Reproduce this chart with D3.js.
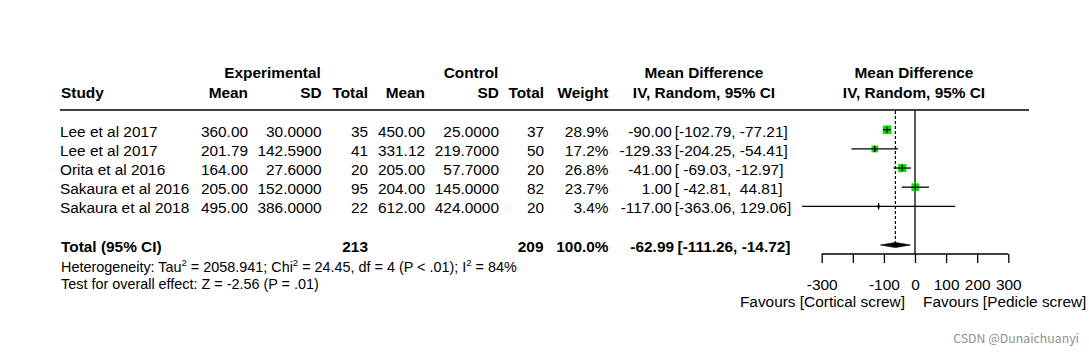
<!DOCTYPE html>
<html><head><meta charset="utf-8">
<script src="https://cdn.jsdelivr.net/npm/d3@7"></script>
<style>
html,body{margin:0;padding:0;background:#fff;}
svg text{font-family:"Liberation Sans",Arial,sans-serif;fill:#000;white-space:pre;}
</style></head>
<body>
<svg id="c" width="1089" height="356"></svg>
<script>
const studies = ["Lee et al 2017","Lee et al 2017","Orita et al 2016","Sakaura et al 2016","Sakaura et al 2018"];
const expMean = [360.00, 201.79, 164.00, 205.00, 495.00];
const expSD = [30.0, 142.59, 27.6, 152.0, 386.0];
const expN = [35, 41, 20, 95, 22];
const ctlMean = [450.00, 331.12, 205.00, 204.00, 612.00];
const ctlSD = [25.0, 219.7, 57.7, 145.0, 424.0];
const ctlN = [37, 50, 20, 82, 20];
const weights = [28.9, 17.2, 26.8, 23.7, 3.4];
const md = [-90.00, -129.33, -41.00, 1.00, -117.00];
const lower = [-102.79, -204.25, -69.03, -42.81, -363.06];
const upper = [-77.21, -54.41, -12.97, 44.81, 129.06];
const totalN = [213, 209];
const pooled = [-62.99, -111.26, -14.72]; // estimate, lower, upper
const axisTicks = [-300, -200, -100, 0, 100, 200, 300];
const axisLabels = ["-300", "", "-100", "0", "100", "200", "300"];

const svg = d3.select("#c");
const FS = 15.4, FSS = 14.4;
const x = d3.scaleLinear().domain([-300, 300]).range([821.7, 1008.3]);
const y = d3.scaleLinear().domain([0, 4]).range([129.8, 206.3]);
const base = i => y(i) + 6.9;

function txt(xp, yp, s, anchor, bold, size) {
  return svg.append("text").attr("x", xp).attr("y", yp)
    .attr("text-anchor", anchor || "start")
    .attr("font-weight", bold ? "bold" : "normal")
    .attr("font-size", size || FS).text(s);
}

// headers
txt(272.5, 78.3, "Experimental", "middle", true);
txt(471, 78.3, "Control", "middle", true);
txt(704, 78.3, "Mean Difference", "middle", true);
txt(914, 78.3, "Mean Difference", "middle", true);
txt(61, 98, "Study", "start", true);
txt(248, 98, "Mean", "end", true);
txt(321.7, 98, "SD", "end", true);
txt(368, 98, "Total", "end", true);
txt(425, 98, "Mean", "end", true);
txt(499, 98, "SD", "end", true);
txt(544, 98, "Total", "end", true);
txt(608.5, 98, "Weight", "end", true);
txt(704, 98, "IV, Random, 95% CI", "middle", true);
txt(914, 98, "IV, Random, 95% CI", "middle", true);

svg.append("line").attr("x1", 60).attr("x2", 1029).attr("y1", 110).attr("y2", 110)
  .attr("stroke", "#000").attr("stroke-width", 1.3);

const pad = (v, w) => { let s = v.toFixed(2); while (s.length < w) s = " " + s; return s; };

studies.forEach((s, i) => {
  const b = base(i);
  txt(60, b, s);
  txt(248, b, expMean[i].toFixed(2), "end");
  txt(321.7, b, expSD[i].toFixed(4), "end");
  txt(368, b, String(expN[i]), "end");
  txt(425, b, ctlMean[i].toFixed(2), "end");
  txt(499, b, ctlSD[i].toFixed(4), "end");
  txt(544, b, String(ctlN[i]), "end");
  txt(608.5, b, weights[i].toFixed(1) + "%", "end");
  txt(671.8, b, md[i].toFixed(2), "end");
  txt(674.8, b, "[" + pad(lower[i], 7) + "," + pad(upper[i], 7) + "]", "start");
});

// total row
const tb = 251.7;
txt(61, tb, "Total (95% CI)", "start", true);
txt(368, tb, String(totalN[0]), "end", true);
txt(543.5, tb, String(totalN[1]), "end", true);
txt(608.5, tb, "100.0%", "end", true);
txt(674, tb, pooled[0].toFixed(2), "end", true);
txt(677.5, tb, "[" + pooled[1].toFixed(2) + ", " + pooled[2].toFixed(2) + "]", "start", true);

// heterogeneity
const h = svg.append("text").attr("x", 61).attr("y", 271.6).attr("font-size", FSS);
const sup = (t) => h.append("tspan").attr("font-size", 9.5).attr("dy", -6).text(t);
const norm = (t) => h.append("tspan").attr("font-size", FSS).attr("dy", 6).text(t);
h.append("tspan").text("Heterogeneity: Tau");
sup("2"); norm(" = 2058.941; Chi");
sup("2"); norm(" = 24.45, df = 4 (P < .01); I");
sup("2"); norm(" = 84%");
txt(61, 288.8, "Test for overall effect: Z = -2.56 (P = .01)", "start", false, FSS);

// reference lines
svg.append("line").attr("x1", x(0)).attr("x2", x(0)).attr("y1", 110.6).attr("y2", 254)
  .attr("stroke", "#000").attr("stroke-width", 1.3);
svg.append("line").attr("x1", x(pooled[0])).attr("x2", x(pooled[0])).attr("y1", 111).attr("y2", 243)
  .attr("stroke", "#000").attr("stroke-width", 1.2).attr("stroke-dasharray", "3,2");

// CI lines & squares
studies.forEach((s, i) => {
  const cy = y(i);
  const side = 1.6 * Math.sqrt(weights[i]);
  svg.append("rect").attr("x", x(md[i]) - side / 2).attr("y", cy - side / 2)
    .attr("width", side).attr("height", side).attr("fill", "#00e600");
  svg.append("line").attr("x1", x(lower[i])).attr("x2", x(upper[i])).attr("y1", cy).attr("y2", cy)
    .attr("stroke", "#000").attr("stroke-width", 1.3);
  svg.append("line").attr("x1", x(md[i])).attr("x2", x(md[i])).attr("y1", cy - 3.3).attr("y2", cy + 3.3)
    .attr("stroke", "#000").attr("stroke-width", 1.3);
});

// diamond
const dy = 245;
svg.append("polygon")
  .attr("points", [[x(pooled[1]), dy], [x(pooled[0]), dy - 2.6], [x(pooled[2]), dy], [x(pooled[0]), dy + 2.6]].map(p => p.join(",")).join(" "))
  .attr("fill", "#000").attr("stroke", "#000").attr("stroke-width", 0.6);

// axis
const ax = svg.append("g").attr("transform", "translate(0,254)")
  .call(d3.axisBottom(x).tickValues(axisTicks).tickSize(9).tickFormat((d, i) => axisLabels[i]));
ax.select(".domain").attr("stroke", "#000").attr("stroke-width", 1.3).attr("d", `M${x(-300)},0H${x(300)}`);
ax.selectAll(".tick line").attr("stroke", "#000").attr("stroke-width", 1.3);
ax.selectAll(".tick text").attr("font-family", "Liberation Sans, Arial, sans-serif")
  .attr("font-size", FS).attr("fill", "#000").attr("dy", 0).attr("y", 36);

txt(905, 306.5, "Favours [Cortical screw]", "end");
txt(923, 306.5, "Favours [Pedicle screw]", "start");

// watermark
svg.append("text").attr("x", 1079).attr("y", 343).attr("text-anchor", "end")
  .attr("font-size", 12.3).style("fill", "#8f8f8f")
  .style("font-family", "'Noto Sans CJK SC','Noto Sans',sans-serif").text("CSDN @Dunaichuanyi");
</script>
</body></html>
